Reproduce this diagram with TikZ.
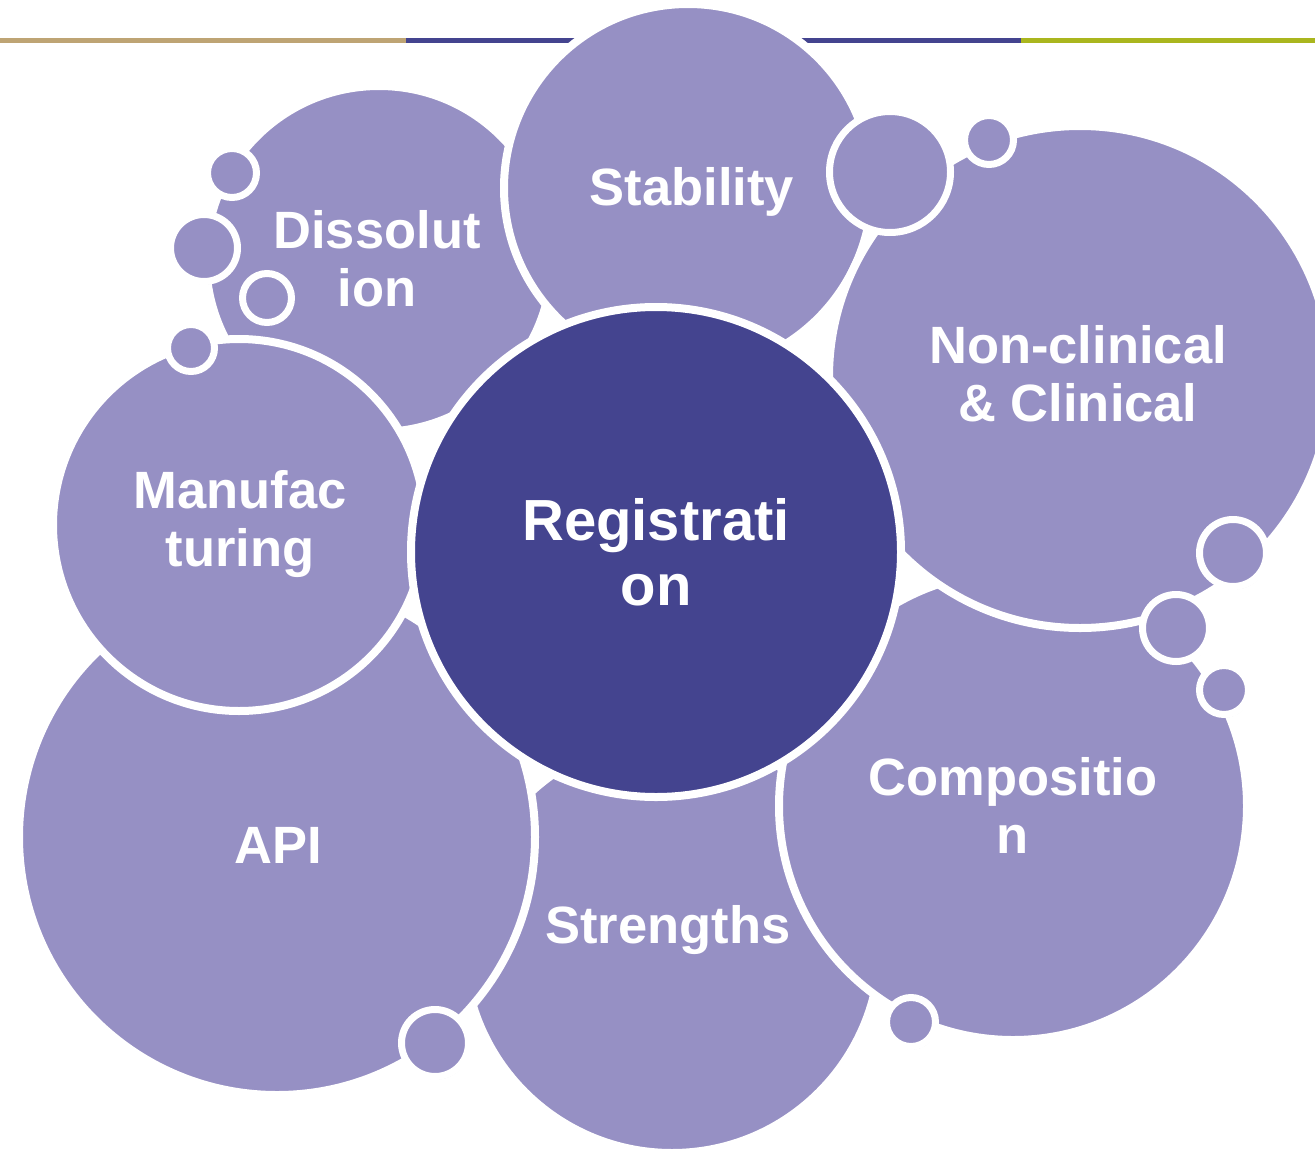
\documentclass[tikz,border=0pt]{standalone}
\usepackage{fontspec}
\setmainfont{Liberation Sans}
\usetikzlibrary{shadows}

\definecolor{bubble}{RGB}{150,144,196}
\definecolor{core}{RGB}{68,68,143}
\definecolor{ruletan}{RGB}{190,164,116}
\definecolor{ruleblue}{RGB}{68,68,143}
\definecolor{rulegreen}{RGB}{170,182,30}

\begin{document}
\begin{tikzpicture}[x=1pt, y=-1pt,
    ball/.style={circle, draw=white, line width=8pt, fill=bubble, inner sep=0pt,
        drop shadow={shadow xshift=1pt, shadow yshift=-3pt, opacity=0.22}},
    dot/.style={ball, line width=7pt},
    word/.style={text=white, align=center, font=\bfseries\fontsize{52.5}{58}\selectfont}]
    \useasboundingbox (0,0) rectangle (1315,1162);
    \clip (0,0) rectangle (1315,1162);

    % header rule
    \draw [line width=5pt, ruletan] (0,40) -- (406,40);
    \draw [line width=5pt, ruleblue] (406,40) -- (1021,40);
    \draw [line width=5pt, rulegreen] (1021,40) -- (1315,40);

    % outer bubbles, back to front
    \node (diss) at (379,259) [ball, minimum size=346pt] {};
    \node (stab) at (688,188) [ball, minimum size=368pt] {};
    \node (str) at (672,945) [ball, minimum size=416pt] {};
    \node (api) at (277,837) [ball, minimum size=516pt] {};
    \node (manu) at (239,525) [ball, minimum size=372pt] {};
    \node (comp) at (1013,806) [ball, minimum size=468pt] {};
    \node (ncl) at (1080,377) [ball, minimum size=502pt] {};
    \node (reg) at (656,552) [ball, fill=core, minimum size=490pt] {};

    % small bubbles
    \node (D1) at (232,173) [dot, minimum size=49pt] {};
    \node (D2) at (204,248) [dot, minimum size=67pt] {};
    \node (D3) at (267,298) [dot, minimum size=49pt] {};
    \node (D4) at (191,348) [dot, minimum size=47pt] {};
    \node (D5) at (890,172) [dot, minimum size=121pt] {};
    \node (D6) at (989,140) [dot, minimum size=49pt] {};
    \node (D7) at (1233,553) [dot, minimum size=67pt] {};
    \node (D8) at (1176,628) [dot, minimum size=67pt] {};
    \node (D9) at (1224,690) [dot, minimum size=49pt] {};
    \node (D10) at (911,1022) [dot, minimum size=49pt] {};
    \node (D11) at (435,1043) [dot, minimum size=67pt] {};

    % labels
    \node (TDiss) at (377,259) [word] {Dissolut\\ion};
    \node (TStab) at (692,192) [word] {Stability};
    \node (TNcl) at (1078,374) [word] {Non-clinical\\\& Clinical};
    \node (TManu) at (240,524) [word] {Manufac\\turing};
    \node (TReg) at (656,552) [word, font=\bfseries\fontsize{58}{65}\selectfont] {Registrati\\on};
    \node (TApi) at (278,845) [word] {API};
    \node (TStr) at (668,930) [word] {Strengths};
    \node (TComp) at (1013,805) [word] {Compositio\\n};
\end{tikzpicture}
\end{document}
